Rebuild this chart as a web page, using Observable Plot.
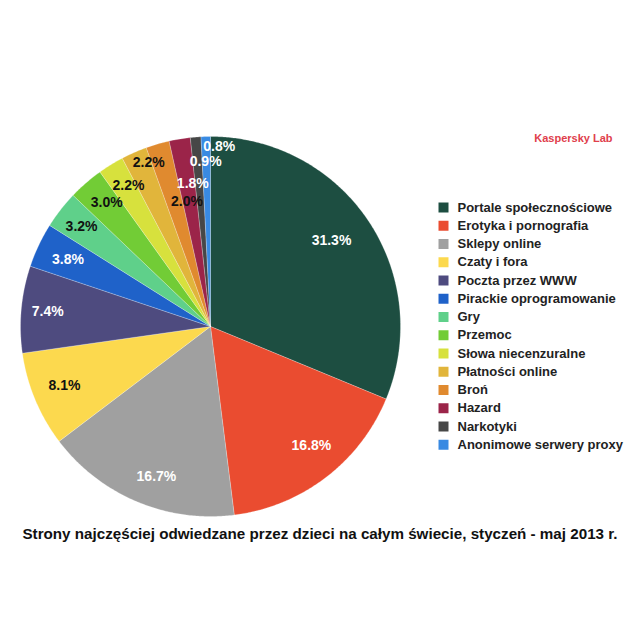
<!DOCTYPE html>
<html><head><meta charset="utf-8">
<script src="https://cdn.jsdelivr.net/npm/d3@7"></script>
<script src="https://cdn.jsdelivr.net/npm/@observablehq/plot@0.6"></script>
<style>
html,body{margin:0;padding:0;background:#fff;width:640px;height:640px;overflow:hidden;font-family:"Liberation Sans",Arial,sans-serif}
#chart{position:absolute;left:0;top:0}
#caption{position:absolute;left:0;top:520px;width:640px;text-align:center;font-weight:bold;font-size:15.2px;line-height:28px;color:#111;white-space:nowrap}
</style></head><body>
<div id="chart"></div>
<div id="caption">Strony najczęściej odwiedzane przez dzieci na całym świecie, styczeń - maj 2013 r.</div>
<script>
const categories = ["Portale społecznościowe","Erotyka i pornografia","Sklepy online","Czaty i fora","Poczta przez WWW","Pirackie oprogramowanie","Gry","Przemoc","Słowa niecenzuralne","Płatności online","Broń","Hazard","Narkotyki","Anonimowe serwery proxy"];
const values = [31.3,16.8,16.7,8.1,7.4,3.8,3.2,3.0,2.2,2.2,2.0,1.8,0.9,0.8];
const colors = ["#1d4e41","#ea4c30","#a0a0a0","#fcd94e","#4e4b7f","#1f62c9","#5fd08a","#72cc36","#d7e13d","#e1b53b","#e08a2f","#9b2449","#474747","#398ae2"];
const whiteLabel = [true,true,true,false,true,true,false,false,false,false,false,true,true,true];
// label layout (fraction of radius, angle nudge in degrees)
const labelRadius = [0.78,0.82,0.84,0.83,0.86,0.83,0.86,0.85,0.86,0.92,0.67,0.76,0.87,0.95];
const labelNudge  = [-1.5,-3,-3,0.5,0,0,0,1,1.5,3,5.5,2.3,2.8,4.2];
const sourceLabel = "Kaspersky Lab";

const CX = 210, CY = 326, R = 190, W = 640, H = 520;
const px = x => (x - CX) / R;
const py = y => (CY - y) / R;

const arcs = d3.pie().sort(null).value(d => d)(values);
const slicePts = [];
arcs.forEach((a, i) => {
  const n = Math.max(2, Math.ceil((a.endAngle - a.startAngle) / (Math.PI / 360)));
  slicePts.push({k: categories[i], x: 0, y: 0});
  for (let j = 0; j <= n; j++) {
    const t = a.startAngle + (a.endAngle - a.startAngle) * j / n;
    slicePts.push({k: categories[i], x: Math.sin(t), y: Math.cos(t)});
  }
  slicePts.push({k: categories[i], x: 0, y: 0});
});
const labels = arcs.map((a, i) => {
  const t = (a.startAngle + a.endAngle) / 2 + labelNudge[i] * Math.PI / 180;
  return {x: Math.sin(t) * labelRadius[i], y: Math.cos(t) * labelRadius[i], text: values[i].toFixed(1) + "%", white: whiteLabel[i]};
});
const font = "'Liberation Sans', Arial, sans-serif";
const legendY = (d, i) => py(207 + 18.25 * i);

const chart = Plot.plot({
  width: W, height: H, margin: 0,
  x: {domain: [px(0), px(W)], axis: null},
  y: {domain: [py(H), py(0)], axis: null},
  color: {domain: categories, range: colors},
  style: {fontFamily: font, background: "white"},
  marks: [
    Plot.line(slicePts, {x: "x", y: "y", z: "k", fill: "k", stroke: "white", strokeWidth: 0.6, strokeOpacity: 0.4}),
    Plot.text(labels.filter(d => d.white), {x: "x", y: "y", text: "text", fill: "white", fontSize: 14, fontWeight: "bold"}),
    Plot.text(labels.filter(d => !d.white), {x: "x", y: "y", text: "text", fill: "#111", fontSize: 14, fontWeight: "bold"}),
    Plot.dot(categories, {x: () => px(443), y: legendY, symbol: "square", r: 5.64, fill: d => d}),
    Plot.text(categories, {x: () => px(457), y: legendY, text: d => d, textAnchor: "start", fill: "#222", fontSize: 13, fontWeight: "bold"}),
    Plot.text([sourceLabel], {x: () => px(612), y: () => py(138), text: d => d, textAnchor: "end", fill: "#e0404c", fontSize: 11, fontWeight: "bold"})
  ]
});
document.getElementById("chart").appendChild(chart);
</script>
</body></html>
